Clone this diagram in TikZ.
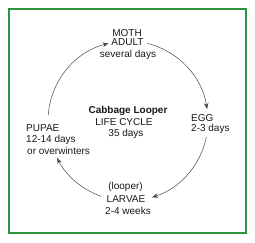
\documentclass[tikz,border=0pt]{standalone}
\usepackage{fontspec}
\setmainfont{Liberation Sans}
\usetikzlibrary{arrows.meta,calc}
\definecolor{framegreen}{RGB}{45,150,60}
\definecolor{arcgray}{RGB}{70,70,70}
\definecolor{txt}{RGB}{25,25,25}
\begin{document}
\begin{tikzpicture}[x=1pt,y=1pt,
  lbl/.style={inner sep=0pt,text=txt,font=\fontsize{10}{12}\selectfont},
  lblc/.style={lbl,anchor=base},
  lbll/.style={lbl,anchor=base west},
  cyc/.style={draw=arcgray,line width=0.5pt,-{Stealth[length=6pt,width=4.5pt]}}]
\useasboundingbox (0,0) rectangle (255,242);
\fill[white] (0,0) rectangle (255,242);
\draw[framegreen,line width=2pt] (9,9.5) rectangle (245.5,233);
% centre of the cycle
\coordinate (c) at (128,121);
% texts
\node[lblc] (moth) at (127,205.5) {MOTH};
\node[lblc] (adult) at (127.5,196.5) {ADULT};
\node[lblc] (mothdays) at (128,185) {several days};
\node[lblc,font=\bfseries\fontsize{10}{12}\selectfont] (title) at (128,129) {Cabbage Looper};
\node[lblc] (lc) at (124,116.5) {LIFE CYCLE};
\node[lblc] (days35) at (126,105.5) {35 days};
\node[lbll] (egg) at (191,120.5) {EGG};
\node[lbll] (eggdays) at (191,110.5) {2-3 days};
\node[lbll] (pupae) at (26,110.5) {PUPAE};
\node[lbll] (pupdays) at (26,99.5) {12-14 days};
\node[lbll] (over) at (27,88) {or overwinters};
\node[lblc] (looper) at (125.5,53) {(looper)};
\node[lblc] (larvae) at (126,39.5) {LARVAE};
\node[lblc] (larvdays) at (128,27.5) {2-4 weeks};
% arc end points
\coordinate (a1) at ($(c)+(176:80)$);
\coordinate (a2) at ($(c)+(76:80)$);
\coordinate (a3) at ($(c)+(-11.6:80)$);
\coordinate (a4) at ($(c)+(-109.7:80)$);
% cycle arcs
\draw[cyc] (a1) arc[start angle=176,end angle=104,radius=80];
\draw[cyc] (a2) arc[start angle=76,end angle=8.6,radius=80];
\draw[cyc] (a3) arc[start angle=-11.6,end angle=-72.5,radius=80];
\draw[cyc] (a4) arc[start angle=-109.7,end angle=-152.5,radius=80];
\end{tikzpicture}
\end{document}
